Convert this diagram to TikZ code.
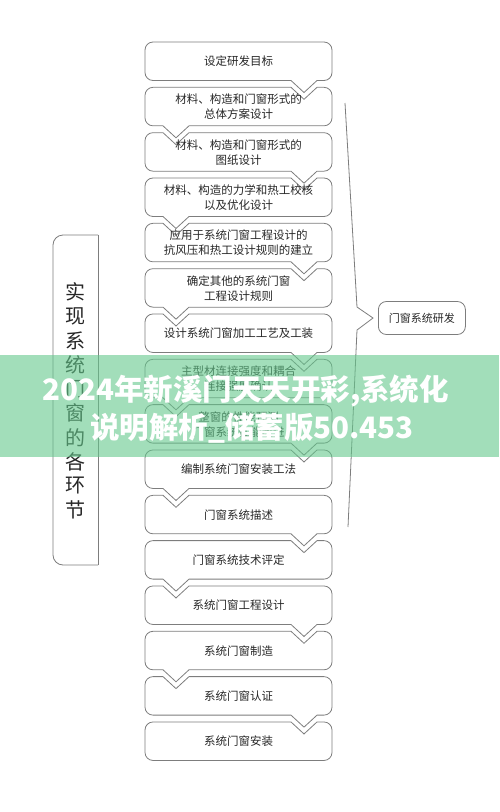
\documentclass[tikz,border=0pt]{standalone}
\usepackage{fontspec}
\setmainfont{Noto Sans CJK SC}
\usetikzlibrary{positioning}

\definecolor{linegray}{RGB}{125,125,125}
\definecolor{bannergreen}{RGB}{100,200,140}

\begin{document}
\begin{tikzpicture}[x=1pt,y=-1pt,
		boxline/.style={draw=linegray,line width=0.8pt},
		boxtext/.style={align=center,font=\fontsize{11.5}{15}\selectfont,text=black!85},
		vtext/.style={font=\fontsize{20}{22}\selectfont,text=black!85,inner sep=0pt},
		sidebox/.style={draw=linegray,line width=0.8pt,rounded corners=8pt,minimum width=87pt,minimum height=33pt,font=\fontsize{11}{13}\selectfont,text=black!85},
		bannertext/.style={font=\fontsize{29.5}{31}\selectfont\bfseries,text=white,inner sep=0pt}]
		
		\useasboundingbox (0,0) rectangle (499,812);
		
		%steps
		\foreach \i/\txt [evaluate=\i as \ytop using {42+45.33*(\i-1)}] in {1/{设定研发目标},2/{材料、构造和门窗形式的\\总体方案设计},3/{材料、构造和门窗形式的\\图纸设计},4/{材料、构造的力学和热工校核\\以及优化设计},5/{应用于系统门窗工程设计的\\抗风压和热工设计规则的建立},6/{确定其他的系统门窗\\工程设计规则},7/{设计系统门窗加工工艺及工装},8/{主型材连接强度和耦合\\连接强度确认},9/{整窗的性能预测\\门窗系统性能改进},10/{编制系统门窗安装工法},11/{门窗系统描述},12/{门窗系统技术评定},13/{系统门窗工程设计},14/{系统门窗制造},15/{系统门窗认证},16/{系统门窗安装}}
		{
			\pgfmathsetmacro\ybot{\ytop+38.5}
			\ifodd\i \def\xn{304}\def\xp{176}\else \def\xn{176}\def\xp{304}\fi
			\ifnum\i=1 \def\dtop{0}\else \def\dtop{12}\fi
			\ifnum\i=16 \def\dbot{0}\else \def\dbot{12}\fi
			\draw[boxline] (145,\ytop+8) arc[start angle=180,end angle=270,radius=8]
				-- (\xp-13,\ytop) -- (\xp,\ytop+\dtop) -- (\xp+13,\ytop)
				-- (324,\ytop) arc[start angle=270,end angle=360,radius=8]
				-- (332,\ybot-8) arc[start angle=0,end angle=90,radius=8]
				-- (\xn+13,\ybot) -- (\xn,\ybot+\dbot) -- (\xn-13,\ybot)
				-- (153,\ybot) arc[start angle=90,end angle=180,radius=8] -- cycle;
			\node[boxtext] (s\i) at (238.5,\ytop+19.5) {\txt};
		}
		
		%left frame
		\draw[boxline,rounded corners=10pt] (98,235) -- (53,235) -- (53,565) -- (98,565);
		\draw[boxline] (98,235) -- (98,565);
		\foreach \c [count=\k] in {实,现,系,统,门,窗,的,各,环,节}
			\node[vtext] (v\k) at (75,{292+24.2*(\k-1)}) {\c};
		
		%brace
		\coordinate (top) at (345,103);
		\coordinate (bot) at (348,527);
		\coordinate (tip) at (373,318);
		\draw[boxline] (top) -- (357,307) -- (tip) -- (357,330) -- (bot);
		\node[sidebox,right=5pt of tip] (yanfa) {门窗系统研发};
		
		%banner
		\fill[bannergreen,opacity=0.6] (0,355) rectangle (499,457);
		\node[bannertext] (ad1) at (245.5,391) {2024年新溪门天天开彩,系统化};
		\node[bannertext] (ad2) at (252,428) {说明解析\_储蓄版50.453};
		
	\end{tikzpicture}
\end{document}
